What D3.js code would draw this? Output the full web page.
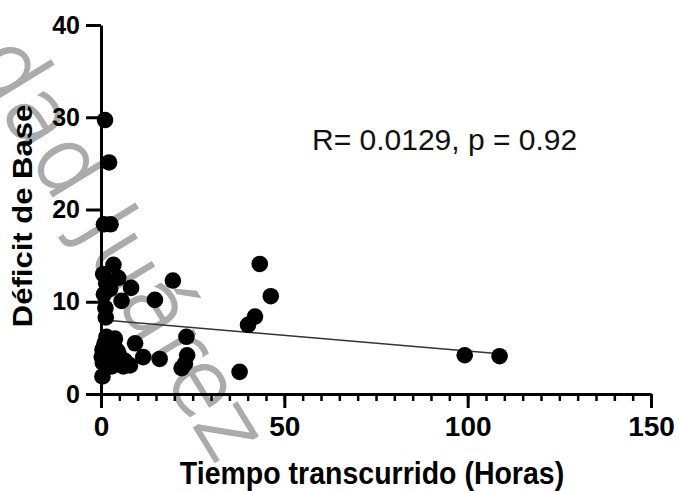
<!DOCTYPE html>
<html>
<head>
<meta charset="utf-8">
<script src="https://cdn.jsdelivr.net/npm/d3@7"></script>
<style>
  body { margin: 0; background: #fff; }
  svg { display: block; }
</style>
</head>
<body>
<div id="chart"></div>
<script>
// values
const hoursX = [1.1, 2.2, 0.8, 2.6, 3.4, 0.6, 4.7, 1.4, 2.5, 0.8, 5.6, 8.2, 14.7, 19.6, 1.2, 1.3,
  0.4, 0.5, 0.4, 1.5, 3.8, 3.8, 2.5, 2.9, 5.2, 6.1, 7.9, 1.0, 2.0, 0.2, 4.6, 6.5,
  9.3, 11.5, 16.0, 23.3, 23.5, 22.9, 22.0, 37.8, 40.1, 42.0, 43.3, 46.3, 99.2, 108.7];
const deficitY = [29.7, 25.1, 18.4, 18.4, 14.0, 13.0, 12.6, 12.0, 11.4, 10.8, 10.1, 11.5, 10.2, 12.3, 9.3, 8.3,
  1.9, 3.4, 4.8, 6.2, 6.0, 5.0, 3.7, 3.0, 4.0, 3.0, 3.1, 5.5, 4.6, 4.0, 4.6, 3.6,
  5.5, 4.0, 3.8, 6.2, 4.2, 3.3, 2.8, 2.4, 7.5, 8.4, 14.1, 10.6, 4.2, 4.1];
const fitX = [0, 108.7];
const fitY = [8.05, 4.35];
const xTicks = [0, 50, 100, 150];
const xMinorTicks = d3.range(0, 151, 5);
const yTicks = [0, 10, 20, 30, 40];
const xTitle = "Tiempo transcurrido (Horas)";
const yTitle = "Déficit de Base";
const statLabel = "R= 0.0129, p = 0.92";
const watermark = "dad Juárez";

const W = 679, H = 491;
const svg = d3.select("#chart").append("svg")
  .attr("width", W).attr("height", H);

const x = d3.scaleLinear().domain([0, 150]).range([101, 651]);
const y = d3.scaleLinear().domain([0, 40]).range([394, 25]);

// watermark behind everything
svg.append("text")
  .attr("transform", "translate(-30,60) rotate(58.6)")
  .attr("font-family", "DejaVu Sans")
  .attr("font-weight", 200)
  .attr("font-size", 90)
  .attr("fill", "#ababab")
  .attr("stroke", "#ababab")
  .attr("stroke-width", 2.5)
  .text(watermark);

// fit line
const line = d3.line().x(d => x(d[0])).y(d => y(d[1]));
svg.append("path")
  .datum(d3.zip(fitX, fitY))
  .attr("d", line)
  .attr("fill", "none")
  .attr("stroke", "#333")
  .attr("stroke-width", 1.5);

// points
svg.selectAll(".dot")
  .data(d3.zip(hoursX, deficitY))
  .enter()
  .append("circle")
  .attr("class", "dot")
  .attr("cx", d => x(d[0]))
  .attr("cy", d => y(d[1]))
  .attr("r", 8.3)
  .attr("fill", "#000");

// x axis: minor then major
svg.append("g")
  .attr("transform", `translate(0,${y(0)})`)
  .call(d3.axisBottom(x).tickValues(xMinorTicks).tickSize(7).tickSizeOuter(0).tickFormat(""))
  .call(g => g.select(".domain").remove())
  .call(g => g.selectAll("line").attr("stroke", "#000").attr("stroke-width", 2.5));

const xAxis = svg.append("g")
  .attr("transform", `translate(0,${y(0)})`)
  .call(d3.axisBottom(x).tickValues(xTicks).tickSize(14).tickSizeOuter(0).tickPadding(8));
xAxis.select(".domain").attr("stroke", "#000").attr("stroke-width", 3);
xAxis.selectAll("line").attr("stroke", "#000").attr("stroke-width", 3);
xAxis.selectAll("text")
  .attr("font-family", "Liberation Sans, Arial, sans-serif")
  .attr("font-weight", "bold")
  .attr("font-size", 28)
  .attr("fill", "#000");

const yAxis = svg.append("g")
  .attr("transform", `translate(${x(0)},0)`)
  .call(d3.axisLeft(y).tickValues(yTicks).tickSize(15).tickSizeOuter(0).tickPadding(6));
yAxis.select(".domain").attr("stroke", "#000").attr("stroke-width", 3);
yAxis.selectAll("line").attr("stroke", "#000").attr("stroke-width", 3);
yAxis.selectAll("text")
  .attr("font-family", "Liberation Sans, Arial, sans-serif")
  .attr("font-weight", "bold")
  .attr("font-size", 25)
  .attr("fill", "#000");

// titles
svg.append("text")
  .attr("transform", "translate(372,484) scale(0.92,1)")
  .attr("text-anchor", "middle")
  .attr("font-family", "Liberation Sans, Arial, sans-serif")
  .attr("font-weight", "bold")
  .attr("font-size", 31)
  .text(xTitle);

svg.append("text")
  .attr("transform", "translate(32,216) rotate(-90) scale(1.15,1)")
  .attr("text-anchor", "middle")
  .attr("font-family", "Liberation Sans, Arial, sans-serif")
  .attr("font-weight", "bold")
  .attr("font-size", 27)
  .text(yTitle);

svg.append("text")
  .attr("x", 312)
  .attr("y", 150)
  .attr("font-family", "Liberation Sans, Arial, sans-serif")
  .attr("font-size", 30)
  .attr("fill", "#111")
  .text(statLabel);
</script>
</body>
</html>
